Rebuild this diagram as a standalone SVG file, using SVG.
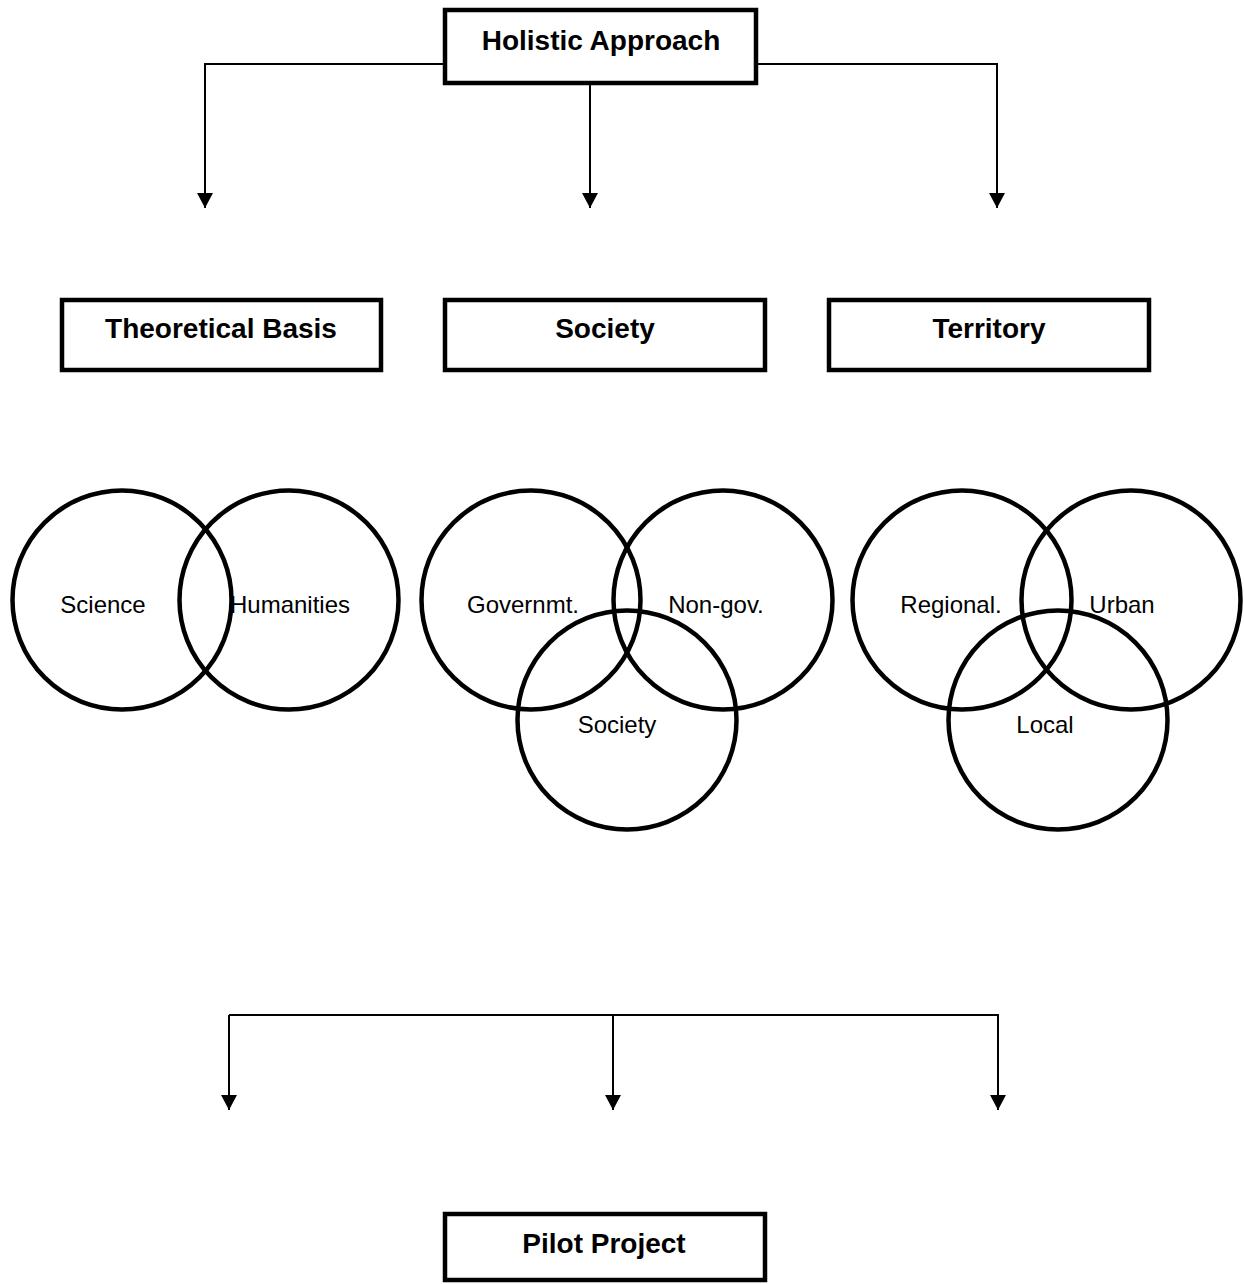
<svg xmlns="http://www.w3.org/2000/svg" width="1244" height="1284" viewBox="0 0 1244 1284">
<style>
.box{fill:#fff;stroke:#000;stroke-width:4.5}
.circ{fill:none;stroke:#000;stroke-width:4.5}
.conn{fill:none;stroke:#000;stroke-width:2}
.bt{font-family:"Liberation Sans",Arial,sans-serif;font-weight:bold;font-size:28px;text-anchor:middle;fill:#000}
.ct{font-family:"Liberation Sans",Arial,sans-serif;font-size:24px;text-anchor:middle;fill:#000}
</style>
<defs>
<marker id="ah" markerUnits="userSpaceOnUse" viewBox="0 0 15 16" refX="15" refY="8" markerWidth="15" markerHeight="16" orient="auto">
<path d="M0,0 L15,8 L0,16 z" fill="#000"/>
</marker>
</defs>
<rect width="1244" height="1284" fill="#fff"/>
<g id="connectors">
<path class="conn" d="M445,64 H205 V208" marker-end="url(#ah)"/>
<path class="conn" d="M590,85 V208" marker-end="url(#ah)"/>
<path class="conn" d="M756,64 H997 V208" marker-end="url(#ah)"/>
<path class="conn" d="M229,1015 H999"/>
<path class="conn" d="M229,1015 V1110" marker-end="url(#ah)"/>
<path class="conn" d="M613,1015 V1110" marker-end="url(#ah)"/>
<path class="conn" d="M998,1015 V1110" marker-end="url(#ah)"/>
</g>
<g id="holistic">
<rect class="box" x="445" y="10" width="311" height="73"/>
<text class="bt" x="601" y="50">Holistic Approach</text>
</g>
<g id="theoretical">
<rect class="box" x="62" y="300" width="319" height="70"/>
<text class="bt" x="221" y="338">Theoretical Basis</text>
</g>
<g id="society">
<rect class="box" x="445" y="300" width="320" height="70"/>
<text class="bt" x="605" y="338">Society</text>
</g>
<g id="territory">
<rect class="box" x="829" y="300" width="320" height="70"/>
<text class="bt" x="989" y="338">Territory</text>
</g>
<g id="science">
<circle class="circ" cx="122" cy="600" r="109.5"/>
<text class="ct" x="103" y="613">Science</text>
</g>
<g id="humanities">
<circle class="circ" cx="289" cy="600" r="109.5"/>
<text class="ct" x="290" y="613">Humanities</text>
</g>
<g id="governmt">
<circle class="circ" cx="531" cy="600" r="109.5"/>
<text class="ct" x="523" y="613">Governmt.</text>
</g>
<g id="nongov">
<circle class="circ" cx="723" cy="600" r="109.5"/>
<text class="ct" x="716" y="613">Non-gov.</text>
</g>
<g id="society-circle">
<circle class="circ" cx="627" cy="720" r="109.5"/>
<text class="ct" x="617" y="733">Society</text>
</g>
<g id="regional">
<circle class="circ" cx="962" cy="600" r="109.5"/>
<text class="ct" x="951" y="613">Regional.</text>
</g>
<g id="urban">
<circle class="circ" cx="1131" cy="600" r="109.5"/>
<text class="ct" x="1122" y="613">Urban</text>
</g>
<g id="local">
<circle class="circ" cx="1058" cy="720" r="109.5"/>
<text class="ct" x="1045" y="733">Local</text>
</g>
<g id="pilot">
<rect class="box" x="445" y="1214" width="320" height="66"/>
<text class="bt" x="604" y="1253">Pilot Project</text>
</g>
</svg>
